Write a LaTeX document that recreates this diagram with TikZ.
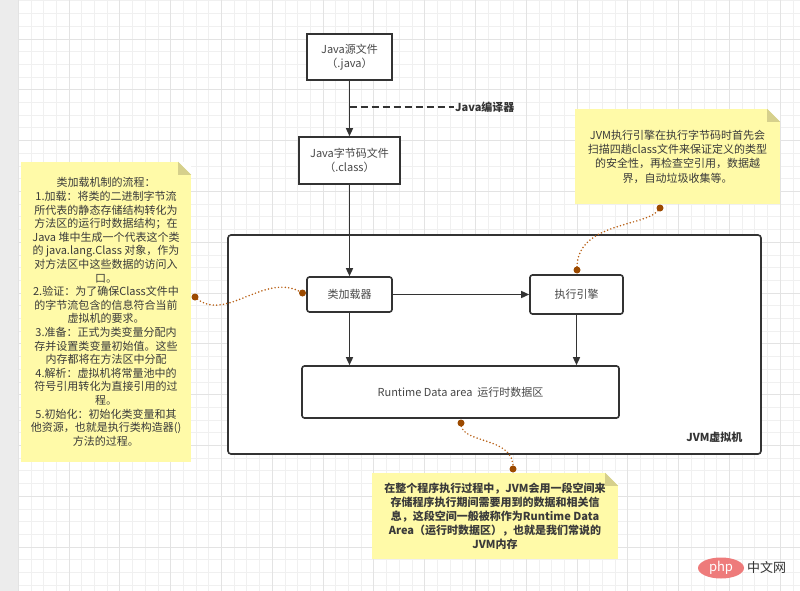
\documentclass[tikz,border=0pt]{standalone}
\usepackage{fontspec}
\setmainfont{Noto Sans CJK SC}
\usetikzlibrary{arrows.meta,shapes.geometric}
\definecolor{boxline}{HTML}{333333}
\definecolor{boxtext}{HTML}{474747}
\definecolor{notefill}{HTML}{FFFAA8}
\definecolor{notefold}{HTML}{D6D08C}
\definecolor{notetext}{HTML}{3A3A3A}
\definecolor{linkbrown}{HTML}{B85F14}
\definecolor{dotbrown}{HTML}{9C4A00}
\definecolor{gridminor}{HTML}{F0F0F0}
\definecolor{gridmajor}{HTML}{E3E3E3}
\definecolor{phpred}{HTML}{EE7B7B}
\begin{document}
\begin{tikzpicture}[x=1pt,y=-1pt,>={Triangle[length=8pt,width=7pt]},
  box/.style={draw=boxline,line width=1.6pt,fill=white,text=boxtext,align=center,inner sep=0pt,
    font=\fontsize{11}{14}\selectfont},
  rbox/.style={box,rounded corners=2.5pt},
  flow/.style={->,draw=boxline,line width=1.4pt},
  note/.style={fill=notefill,text=notetext,align=center,inner sep=0pt},
  link/.style={draw=linkbrown,line width=1.7pt,dash pattern=on 0pt off 3.4pt,line cap=round},
  enddot/.style={fill=dotbrown,circle,inner sep=0pt,minimum size=7pt}]
\useasboundingbox (0,0) rectangle (800,591);
\fill[white] (0,0) rectangle (800,591);
\fill[gray!15] (0,0) rectangle (18.2,591);
\foreach \i in {0,...,61} \draw[gridminor,line width=0.8pt] ({18.2+12.7*\i},0) -- ({18.2+12.7*\i},591);
\foreach \i in {0,...,46} \draw[gridminor,line width=0.8pt] (18.2,{0.9+12.7*\i}) -- (800,{0.9+12.7*\i});
\foreach \i in {0,4,...,60} \draw[gridmajor,line width=0.8pt] ({18.2+12.7*\i},0) -- ({18.2+12.7*\i},591);
\foreach \i in {3,7,...,46} \draw[gridmajor,line width=0.8pt] (18.2,{0.9+12.7*\i}) -- (800,{0.9+12.7*\i});

\node[box,minimum width=85,minimum height=46] (src) at (349.5,57) {Java源文件\\（.java）};
\node[box,minimum width=101,minimum height=47] (cls) at (349.5,160.5) {Java字节码文件\\（.class）};
\node[rbox,minimum width=533,minimum height=219,rounded corners=3pt] (jvm) at (494.5,344.5) {};
\node[font=\fontsize{11}{14}\selectfont\bfseries,text=boxline,anchor=east] (jvmlabel) at (746,437) {JVM虚拟机};
\node[rbox,minimum width=85,minimum height=35] (loader) at (349.5,294.5) {类加载器};
\node[rbox,minimum width=93,minimum height=39] (engine) at (576.5,294.5) {执行引擎};
\node[rbox,minimum width=317,minimum height=52] (rda) at (460.5,392) {Runtime Data area\ \ 运行时数据区};

\draw[flow] (src) -- (cls);
\coordinate (cmp) at (349.5,107);
\node[font=\fontsize{11}{14}\selectfont\bfseries,text=boxline,anchor=west,inner sep=1pt] (javac) at (454,107) {Java编译器};
\draw[boxline,line width=1.5pt,dash pattern=on 7pt off 4pt] (cmp) -- (javac.west);
\draw[flow] (cls) -- (loader);
\draw[flow] (loader) -- (engine);
\draw[flow] (loader.south) -- (loader.south |- rda.north);
\draw[flow] (engine.south) -- (engine.south |- rda.north);

\node[note,minimum width=170,minimum height=300,font=\fontsize{11}{13.6}\selectfont] (flownote) at (106,312) {类加载机制的流程：\\
1.加载：将类的二进制字节流\\
所代表的静态存储结构转化为\\
方法区的运行时数据结构；在\\
Java 堆中生成一个代表这个类\\
的 java.lang.Class 对象，作为\\
对方法区中这些数据的访问入\\
口。\\
2.验证：为了确保Class文件中\\
的字节流包含的信息符合当前\\
虚拟机的要求。\\
3.准备：正式为类变量分配内\\
存并设置类变量初始值。这些\\
内存都将在方法区中分配\\
4.解析：虚拟机将常量池中的\\
符号引用转化为直接引用的过\\
程。\\
5.初始化：初始化类变量和其\\
他资源，也就是执行类构造器()\\
方法的过程。};
\node[note,minimum width=205,minimum height=95,font=\fontsize{11}{14.3}\selectfont] (enginenote) at (677.5,156.5) {JVM执行引擎在执行字节码时首先会\\
扫描四趟class文件来保证定义的类型\\
的安全性，再检查空引用，数据越\\
界，自动垃圾收集等。};
\node[note,minimum width=246,minimum height=86,font=\fontsize{11}{14}\selectfont\bfseries] (rdanote) at (495,516) {在整个程序执行过程中，JVM会用一段空间来\\
存储程序执行期间需要用到的数据和相关信\\
息，这段空间一般被称作为Runtime Data\\
Area（运行时数据区），也就是我们常说的\\
JVM内存};
\foreach \n in {flownote,enginenote,rdanote} {
  \fill[white] (\n.north east) -- ++(-13,0) -- ++(13,13) -- cycle;
  \fill[notefold] (\n.north east) ++(-13,0) -- ++(0,13) -- ++(13,0) -- cycle;
}

\coordinate (l1) at (195,297);
\coordinate (l2) at (302.5,293);
\coordinate (e1) at (660,208);
\coordinate (e2) at (577,270);
\coordinate (r1) at (461,423);
\coordinate (r2) at (513,469);
\draw[link] (l1) .. controls (225,325) and (265,270) .. (l2);
\draw[link] (e1) .. controls (650,228) and (575,220) .. (e2);
\draw[link] (r1) .. controls (460,445) and (515,435) .. (r2);
\foreach \c in {l1,l2,e1,e2,r1,r2} \node[enddot] at (\c) {};

\node[ellipse,fill=phpred,minimum width=46,minimum height=21,inner sep=0pt,text=white,
  font=\fontsize{13}{14}\selectfont\itshape] (php) at (721,568) {php};
\node[anchor=west,text=boxline,inner sep=0pt,font=\fontsize{13}{14}\selectfont] (phpcn) at (747,568) {中文网};
\end{tikzpicture}
\end{document}
